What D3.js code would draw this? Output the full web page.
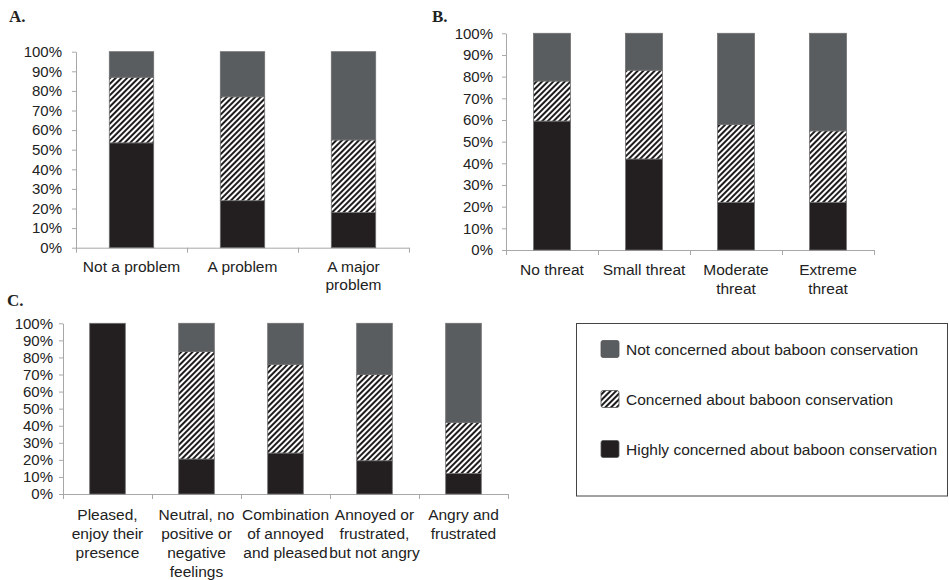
<!DOCTYPE html>
<html lang="en">
  <head>
    <meta charset="UTF-8" />
    <title>Baboon conservation concern</title>
    <script src="https://d3js.org/d3.v7.min.js"></script>
    <style>
      body { margin: 0; background: #fff; }
      svg text { font-family: "Liberation Sans", Arial, sans-serif; fill: #222; }
      .panel-label { font-family: "Liberation Serif", "Times New Roman", serif; font-weight: bold; font-size: 17px; }
    </style>
  </head>
  <body>
    <div id="chart"></div>
  </body>
</html>

<script>
  // series, bottom to top
  const seriesKeys = ["highly", "concerned", "not"]
  const seriesNames = [
    "Highly concerned about baboon conservation",
    "Concerned about baboon conservation",
    "Not concerned about baboon conservation"
  ]
  const yTicks = [0, 10, 20, 30, 40, 50, 60, 70, 80, 90, 100]

  // A. baboons as a problem
  const catsA = ["Not a problem", "A problem", "A major\nproblem"]
  const highlyA = [53.5, 24, 18]
  const concernedA = [33.5, 53, 37]
  const notA = [13, 23, 45]

  // B. baboons as a threat
  const catsB = ["No threat", "Small threat", "Moderate\nthreat", "Extreme\nthreat"]
  const highlyB = [59.5, 42, 22, 22]
  const concernedB = [18.5, 41, 36, 33]
  const notB = [22, 17, 42, 45]

  // C. feelings toward baboons
  const catsC = [
    "Pleased,\nenjoy their\npresence",
    "Neutral, no\npositive or\nnegative\nfeelings",
    "Combination\nof annoyed\nand pleased",
    "Annoyed or\nfrustrated,\nbut not angry",
    "Angry and\nfrustrated"
  ]
  const highlyC = [100, 20.5, 24, 19.5, 12]
  const concernedC = [0, 63, 52, 50.5, 30]
  const notC = [0, 16.5, 24, 30, 58]

  const W = 949, H = 580
  const svg = d3.select("#chart").append("svg").attr("width", W).attr("height", H)

  const defs = svg.append("defs")
  const pat = defs.append("pattern")
    .attr("id", "hatch")
    .attr("patternUnits", "userSpaceOnUse")
    .attr("width", 4).attr("height", 4)
    .attr("patternTransform", "rotate(45)")
  pat.append("rect").attr("width", 4).attr("height", 4).attr("fill", "#fff")
  pat.append("line").attr("x1", 1).attr("y1", 0).attr("x2", 1).attr("y2", 4)
    .attr("stroke", "#1e1c1d").attr("stroke-width", 2)

  const fills = { highly: "#231f20", concerned: "url(#hatch)", not: "#5a5d60" }
  const axisColor = "#a8a8a8"

  function drawPanel(p) {
    const rows = p.cats.map((c, i) => ({
      cat: c, highly: p.highly[i], concerned: p.concerned[i], not: p.not[i]
    }))
    const stacked = d3.stack().keys(seriesKeys)(rows)

    const x = d3.scaleBand().domain(p.cats).range([p.x0, p.x1]).padding(0)
    const xEdge = d3.scaleLinear().domain([0, p.cats.length]).range([p.x0, p.x1])
    const y = d3.scaleLinear().domain([0, 100]).range([p.yBot, p.yTop])
    const bw = x.bandwidth() * 0.4

    const g = svg.append("g")

    // y axis
    const ya = g.append("g")
      .attr("transform", `translate(${p.x0},0)`)
      .call(d3.axisLeft(y).tickValues(yTicks).tickFormat(d => d + "%")
        .tickSize(4).tickSizeOuter(0).tickPadding(p.tickPad))
    ya.attr("font-family", null).attr("font-size", null)
    ya.select(".domain").attr("stroke", axisColor)
    ya.selectAll(".tick line").attr("stroke", axisColor)
    ya.selectAll(".tick text").style("font-size", "15px").attr("fill", "#222")

    // x axis with ticks at category boundaries
    const xa = g.append("g")
      .attr("transform", `translate(0,${p.yBot})`)
      .call(d3.axisBottom(xEdge).tickValues(d3.range(p.cats.length + 1))
        .tickFormat("").tickSize(5).tickSizeOuter(0))
    xa.select(".domain").attr("stroke", axisColor)
    xa.selectAll(".tick line").attr("stroke", axisColor)

    // bars
    g.selectAll(".layer")
      .data(stacked)
      .join("g")
      .attr("fill", d => fills[d.key])
      .selectAll("rect")
      .data(d => d)
      .join("rect")
      .attr("x", d => x(d.data.cat) + (x.bandwidth() - bw) / 2)
      .attr("y", d => y(d[1]))
      .attr("width", bw)
      .attr("height", d => y(d[0]) - y(d[1]))
      .attr("stroke", "#6e6e6e")
      .attr("stroke-width", 0.8)

    // category labels
    g.selectAll(".cat")
      .data(p.cats)
      .join("text")
      .attr("text-anchor", "middle")
      .attr("font-size", "15.5px")
      .each(function (c) {
        const t = d3.select(this)
        c.split("\n").forEach((line, i) => {
          t.append("tspan")
            .attr("x", x(c) + x.bandwidth() / 2)
            .attr("y", p.yBot + p.labelOff + i * p.lineH)
            .text(line)
        })
      })

    svg.append("text").attr("class", "panel-label")
      .attr("x", p.lx).attr("y", p.ly).text(p.label)
  }

  drawPanel({
    label: "A.", lx: 9, ly: 22,
    cats: catsA, highly: highlyA, concerned: concernedA, not: notA,
    x0: 76, x1: 409, yTop: 51.7, yBot: 247.7, tickPad: 10, labelOff: 24, lineH: 18.5
  })
  drawPanel({
    label: "B.", lx: 432, ly: 22,
    cats: catsB, highly: highlyB, concerned: concernedB, not: notB,
    x0: 506, x1: 874, yTop: 33.3, yBot: 250, tickPad: 9, labelOff: 25, lineH: 18.5
  })
  drawPanel({
    label: "C.", lx: 7, ly: 306,
    cats: catsC, highly: highlyC, concerned: concernedC, not: notC,
    x0: 63, x1: 508, yTop: 323.3, yBot: 494, tickPad: 6, labelOff: 26, lineH: 19
  })

  // legend
  const legend = svg.append("g")
  legend.append("rect")
    .attr("x", 576.5).attr("y", 323.5).attr("width", 371).attr("height", 172.5)
    .attr("fill", "none").attr("stroke", "#444").attr("stroke-width", 1)

  const legendItems = seriesKeys.map((k, i) => ({ key: k, name: seriesNames[i] })).reverse()
  const li = legend.selectAll(".item")
    .data(legendItems)
    .join("g")
    .attr("transform", (d, i) => `translate(601,${349 + i * 50})`)
  li.append("rect")
    .attr("x", 0).attr("y", -8.5).attr("width", 18).attr("height", 17).attr("rx", 2)
    .attr("fill", d => fills[d.key])
    .attr("stroke", "#555").attr("stroke-width", 0.8)
  li.append("text")
    .attr("x", 25).attr("y", 5.5)
    .attr("font-size", "15.5px")
    .text(d => d.name)
</script>
